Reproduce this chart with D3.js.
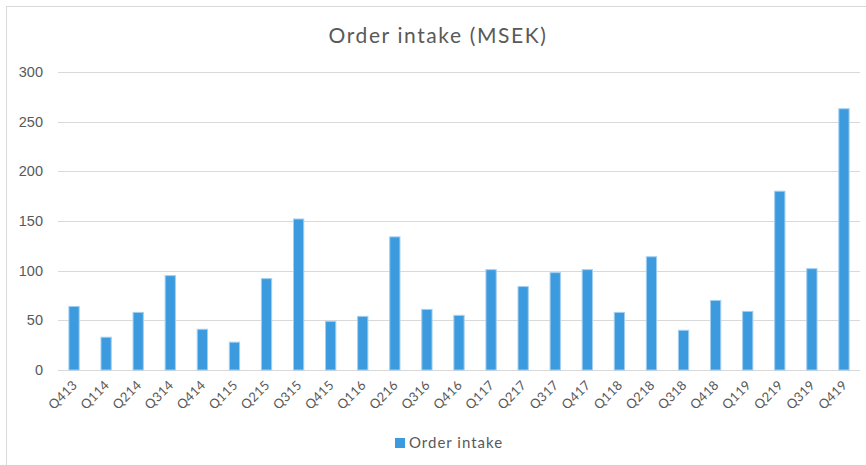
<!DOCTYPE html>
<html><head><meta charset="utf-8">
<script src="https://cdn.jsdelivr.net/npm/d3@7"></script>
<style>
html,body{margin:0;padding:0;background:#fff;}
svg{display:block;}
</style></head>
<body><svg id="c" width="866" height="465"></svg>
<script>
const categories = ["Q413","Q114","Q214","Q314","Q414","Q115","Q215","Q315","Q415","Q116","Q216","Q316","Q416","Q117","Q217","Q317","Q417","Q118","Q218","Q318","Q418","Q119","Q219","Q319","Q419"];
const orderIntake = [64,33,58,95,41,28,92,152,49,54,134,61,55,101,84,98,101,58,114,40,70,59,180,102,263];
const yTicks = [0,50,100,150,200,250,300];
const seriesName = "Order intake";
const title = "Order intake (MSEK)";

const svg = d3.select("#c");
const mLeft = 58, mRight = 860, mTop = 72, mBottom = 370;
const textCol = "#595959";
const geoFont = "Lato, 'Open Sans', sans-serif";

svg.append("rect").attr("x",6.5).attr("y",6.5).attr("width",900).attr("height",500)
  .attr("fill","#fff").attr("stroke","#d9d9d9").attr("stroke-width",1);

const x = d3.scaleBand().domain(categories).range([mLeft,mRight]).paddingInner(0.68).paddingOuter(0.34);
const y = d3.scaleLinear().domain([0,300]).range([mBottom,mTop]);

// gridlines
svg.append("g").selectAll("line").data(yTicks).join("line")
  .attr("x1",mLeft).attr("x2",mRight)
  .attr("y1",d=>Math.round(y(d))+0.5).attr("y2",d=>Math.round(y(d))+0.5)
  .attr("stroke","#d9d9d9").attr("stroke-width",1);

// y labels
svg.append("g").selectAll("text").data(yTicks).join("text")
  .attr("x",43).attr("y",d=>y(d)+5)
  .attr("text-anchor","end").attr("font-family","'Liberation Sans', Arial, sans-serif")
  .attr("font-size",14.5).attr("fill",textCol).text(d=>d);

// bars
svg.append("g").selectAll("rect").data(orderIntake).join("rect")
  .attr("x",(d,i)=>x(categories[i]))
  .attr("width",x.bandwidth())
  .attr("y",d=>y(d))
  .attr("height",d=>y(0)-y(d))
  .attr("fill","#3c9ade").attr("stroke","#a3cff0").attr("stroke-width",1);

// x labels
svg.append("g").selectAll("text").data(categories).join("text")
  .attr("transform",d=>`translate(${x(d)+x.bandwidth()/2+4},${386}) rotate(-45)`)
  .attr("text-anchor","end")
  .attr("font-family",geoFont).attr("font-size",13).attr("letter-spacing",0.3)
  .attr("fill",textCol).text(d=>d);

// title
svg.append("text").attr("x",438).attr("y",43).attr("text-anchor","middle")
  .attr("font-family",geoFont).attr("font-size",21).attr("letter-spacing",1.6)
  .attr("fill",textCol).text(title);

// legend
svg.append("rect").attr("x",395).attr("y",438).attr("width",10).attr("height",10).attr("fill","#3c9ade");
svg.append("text").attr("x",409).attr("y",448).attr("font-family",geoFont)
  .attr("font-size",15).attr("letter-spacing",1)
  .attr("fill",textCol).text(seriesName);
</script></body></html>
